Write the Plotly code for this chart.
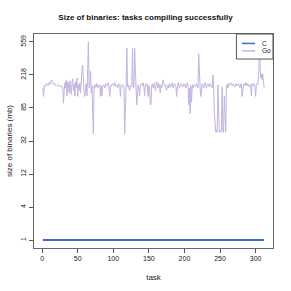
import numpy as np
import plotly.graph_objects as go

tasks = list(range(1, 313))

go_sizes = [
    150, 118, 160, 155, 165, 170, 168, 160, 172, 175, 165, 180, 189, 185, 178, 165, 170, 168, 160, 158,
    162, 160, 165, 158, 160, 155, 160, 158, 150, 97, 140, 175, 150, 190, 120, 180, 165, 130, 185, 160,
    125, 175, 195, 140, 170, 120, 180, 150, 200, 118, 165, 140, 175, 130, 200, 250, 290, 180, 130, 118,
    150, 170, 120, 200, 559, 150, 175, 245, 130, 160, 100, 40, 160, 150, 165, 155, 170, 150, 160, 158,
    165, 118, 160, 120, 155, 165, 160, 150, 170, 158, 160, 165, 175, 150, 118, 160, 158, 165, 170, 160,
    160, 175, 165, 155, 160, 150, 170, 160, 165, 118, 160, 158, 165, 160, 150, 40, 150, 160, 470, 155,
    165, 150, 140, 160, 155, 165, 470, 150, 155, 470, 160, 150, 92, 155, 165, 150, 120, 160, 170, 165,
    160, 175, 155, 120, 165, 160, 170, 165, 118, 160, 150, 92, 95, 160, 170, 150, 165, 175, 140, 160,
    180, 165, 150, 170, 160, 130, 165, 150, 175, 190, 170, 160, 165, 155, 140, 160, 165, 150, 170, 160,
    155, 165, 175, 150, 160, 170, 165, 158, 118, 160, 175, 165, 150, 160, 170, 165, 160, 155, 170, 160,
    165, 150, 160, 175, 165, 92, 150, 72, 160, 100, 165, 150, 160, 165, 155, 160, 170, 165, 150, 400,
    160, 150, 118, 165, 170, 160, 150, 165, 175, 160, 150, 165, 170, 160, 155, 170, 165, 160, 150, 218,
    165, 72, 42, 42, 45, 42, 164, 42, 42, 44, 42, 45, 154, 42, 42, 120, 42, 42, 164, 165,
    150, 170, 160, 165, 175, 170, 160, 165, 170, 160, 155, 165, 170, 160, 165, 170, 160, 150, 165, 170,
    118, 160, 165, 170, 160, 175, 165, 160, 170, 165, 155, 160, 165, 120, 170, 160, 165, 170, 160, 118,
    160, 170, 165, 200, 335, 355, 200, 225, 190, 225, 180, 150,
]
c_sizes = [1] * len(tasks)

series_names = ["C", "Go"]
series_colors = ["#3b6fc6", "#c2b4e0"]

all_vals = np.array(go_sizes + c_sizes, dtype=float)
lo, hi = np.log1p(all_vals.min()), np.log1p(all_vals.max())
tick_pos = np.linspace(lo, hi, 7)
tick_text = [str(int(round(v))) for v in np.expm1(tick_pos)]
pad = 0.04 * (hi - lo)
xpad = 0.04 * (tasks[-1] - tasks[0])

fig = go.Figure()
fig.add_trace(go.Scatter(x=tasks, y=np.log1p(c_sizes), mode="lines", name=series_names[0],
                         line=dict(color=series_colors[0], width=2), showlegend=False))
fig.add_trace(go.Scatter(x=tasks, y=np.log1p(go_sizes), mode="lines", name=series_names[1],
                         line=dict(color=series_colors[1], width=1), showlegend=False))

# compact R-style legend box (top-right, inside plot)
fig.add_shape(type="rect", xref="paper", yref="paper", x0=0.847, x1=1.0, y0=0.883, y1=1.0,
              fillcolor="white", line=dict(color="#555", width=1), layer="above")
key_y = [0.956, 0.921]
for name, color, ky in zip(series_names, series_colors, key_y):
    fig.add_shape(type="line", xref="paper", yref="paper", x0=0.870, x1=0.925, y0=ky, y1=ky,
                  line=dict(color=color, width=1.5), layer="above")
    fig.add_annotation(text=name, xref="paper", yref="paper", x=0.946, y=ky, xanchor="left",
                       yanchor="middle", showarrow=False, font=dict(size=6.5, color="#222"))

font = "Liberation Sans, Arial, sans-serif"
fig.update_layout(
    width=291, height=291,
    margin=dict(l=34, r=18, t=34, b=43, autoexpand=False),
    paper_bgcolor="white", plot_bgcolor="white",
    font=dict(family=font, size=7, color="#222"),
    title=dict(text="<b>Size of binaries: tasks compiling successfully</b>",
               x=0.5, xanchor="center", y=1 - 17 / 291, yanchor="middle", yref="container",
               font=dict(size=8, color="#111")),
    showlegend=False,
    xaxis=dict(range=[tasks[0] - xpad, tasks[-1] + xpad], tickvals=[0, 50, 100, 150, 200, 250, 300],
               ticks="outside", ticklen=4, tickcolor="#555", showgrid=False, zeroline=False,
               showline=True, linecolor="#666", linewidth=1, mirror=True, automargin=False,
               title=dict(text="task", standoff=12), tickfont=dict(size=7)),
    yaxis=dict(range=[lo - pad, hi + pad], tickvals=tick_pos, ticktext=tick_text, tickangle=-90,
               ticks="outside", ticklen=4, tickcolor="#555", showgrid=False, zeroline=False,
               showline=True, linecolor="#666", linewidth=1, mirror=True, automargin=False,
               title=dict(text="size of binaries (mb)", standoff=6), tickfont=dict(size=7)),
)

fig.write_html("out.html", config={"displayModeBar": False},
               post_script="document.body.style.margin='0';")
